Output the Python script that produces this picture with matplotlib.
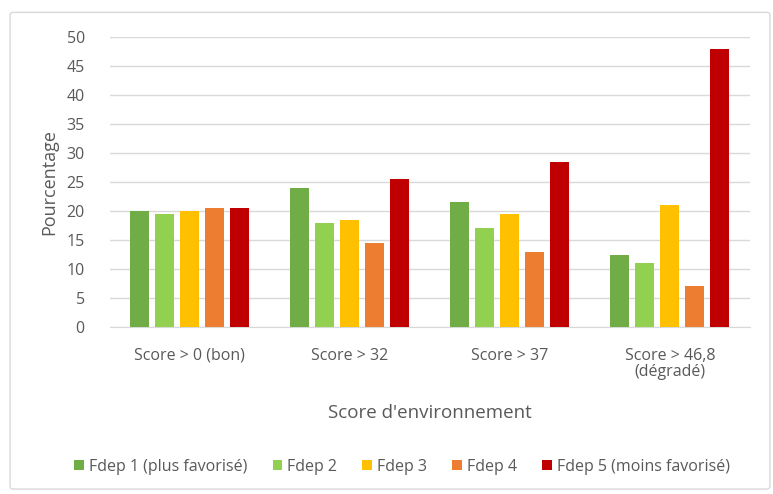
import matplotlib.pyplot as plt
import numpy as np
from matplotlib.patches import FancyBboxPatch

categories = ["Score > 0 (bon)", "Score > 32", "Score > 37", "Score > 46,8\n(dégradé)"]
series_names = ["Fdep 1 (plus favorisé)", "Fdep 2", "Fdep 3", "Fdep 4", "Fdep 5 (moins favorisé)"]
fdep1 = [20, 24, 21.5, 12.5]
fdep2 = [19.5, 18, 17, 11]
fdep3 = [20, 18.5, 19.5, 21]
fdep4 = [20.5, 14.5, 13, 7]
fdep5 = [20.5, 25.5, 28.5, 48]
colors = ["#70AD47", "#92D050", "#FFC000", "#ED7D31", "#C00000"]

plt.rcParams['font.family'] = ['Open Sans', 'DejaVu Sans']
txt = "#595959"

fig = plt.figure(figsize=(7.73, 4.94), dpi=100)
ax = fig.add_axes([0.142, 0.338, 0.828, 0.587])

# chart border
fig.patches.append(FancyBboxPatch((0.013, 0.01), 0.983, 0.965, boxstyle="round,pad=0,rounding_size=0.005",
                                  transform=fig.transFigure, facecolor="none",
                                  edgecolor="#D9D9D9", linewidth=1))

x = np.arange(len(categories))
pitch = 0.156
width = 0.12
for i, (vals, name) in enumerate(zip([fdep1, fdep2, fdep3, fdep4, fdep5], series_names)):
    ax.bar(x + (i - 2) * pitch, vals, width, color=colors[i], label=name, zorder=3)

ax.set_xlim(-0.5, len(categories) - 0.5)
ax.set_ylim(0, 50)
ax.set_yticks(range(0, 51, 5))
ax.yaxis.grid(True, color="#D9D9D9", linewidth=1, zorder=0)
for s in ["top", "right", "left"]:
    ax.spines[s].set_visible(False)
ax.spines["bottom"].set_color("#D9D9D9")
ax.tick_params(axis="both", length=0, labelsize=11.5, labelcolor=txt)
ax.tick_params(axis="y", pad=18)
ax.tick_params(axis="x", pad=15)
ax.set_xticks(x)
ax.set_xticklabels(categories, linespacing=1.05)
ax.set_ylabel("Pourcentage", fontsize=13, color=txt, labelpad=6)
ax.set_xlabel("Score d'environnement", fontsize=13.5, color=txt, labelpad=17)

ax.legend(loc="center", bbox_to_anchor=(0.52, 0.055), bbox_transform=fig.transFigure, ncol=5,
          frameon=False, fontsize=11.5, labelcolor=txt, handlelength=0.6, handleheight=0.6,
          handletextpad=0.3, columnspacing=1.6)

plt.savefig("out.png", dpi=100)
